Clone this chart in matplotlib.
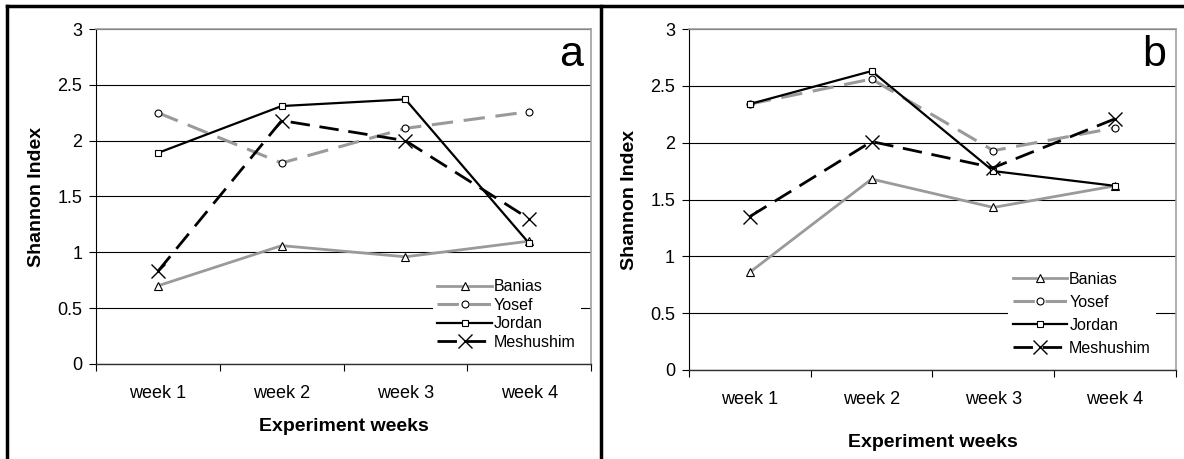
import matplotlib
matplotlib.use('Agg')
import matplotlib.pyplot as plt
from matplotlib.lines import Line2D

plt.rcParams['font.family'] = ['Liberation Sans', 'DejaVu Sans']

weeks = ['week 1', 'week 2', 'week 3', 'week 4']
series_names = ['Banias', 'Yosef', 'Jordan', 'Meshushim']

# panel a
banias_a = [0.70, 1.06, 0.96, 1.10]
yosef_a = [2.25, 1.80, 2.11, 2.26]
jordan_a = [1.89, 2.31, 2.37, 1.08]
meshushim_a = [0.83, 2.18, 2.00, 1.30]

# panel b
banias_b = [0.86, 1.68, 1.43, 1.62]
yosef_b = [2.34, 2.56, 1.93, 2.13]
jordan_b = [2.34, 2.63, 1.75, 1.62]
meshushim_b = [1.35, 2.01, 1.78, 2.21]

styles = {
    'Banias': dict(color='#9a9a9a', lw=2.0, marker='^', ms=6, mfc='white', mec='black', mew=0.8),
    'Yosef': dict(color='#9a9a9a', lw=2.2, dashes=(7, 3.5), marker='o', ms=5, mfc='white', mec='black', mew=0.8),
    'Jordan': dict(color='black', lw=1.6, marker='s', ms=5, mfc='white', mec='black', mew=0.8),
    'Meshushim': dict(color='black', lw=2.0, dashes=(7, 3.5), marker='x', ms=10, mec='black', mew=1.0),
}

fig = plt.figure(figsize=(11.84, 4.59), dpi=100)

panels = [
    dict(rect=[0.0811, 0.2070, 0.4181, 0.7298], data=[banias_a, yosef_a, jordan_a, meshushim_a],
         letter='a', lx=0.984, ly=0.89, leg_anchor=(0.995, 0.005), leg_space=0.21,
         xlabelpad=12, ylabelpad=9),
    dict(rect=[0.5819, 0.1939, 0.4113, 0.7429], data=[banias_b, yosef_b, jordan_b, meshushim_b],
         letter='b', lx=0.979, ly=0.891, leg_anchor=(0.975, 0.005), leg_space=0.5,
         xlabelpad=19, ylabelpad=9),
]

xs = list(range(len(weeks)))
for p in panels:
    ax = fig.add_axes(p['rect'])
    for name, vals in zip(series_names, p['data']):
        ax.plot(xs, vals, label=name, zorder=3, **styles[name])
    ax.set_xlim(-0.5, 3.5)
    ax.set_ylim(0, 3)
    ax.set_yticks([0, 0.5, 1, 1.5, 2, 2.5, 3])
    ax.set_yticklabels(['0', '0.5', '1', '1.5', '2', '2.5', '3'])
    ax.yaxis.grid(True, color='black', lw=0.8)
    ax.set_axisbelow(True)
    ax.set_xticks([-0.5, 0.5, 1.5, 2.5, 3.5])
    ax.set_xticklabels([])
    ax.set_xticks(xs, minor=True)
    ax.set_xticklabels(weeks, minor=True)
    ax.tick_params(axis='x', which='minor', length=0, labelsize=13, pad=15)
    ax.tick_params(axis='x', which='major', length=5, width=0.8, direction='out')
    ax.tick_params(axis='y', length=5, width=0.8, direction='out', labelsize=13, pad=5)
    ax.spines['left'].set_color('black')
    ax.spines['left'].set_linewidth(0.8)
    ax.spines['bottom'].set_color('#303030')
    ax.spines['bottom'].set_linewidth(1.0)
    for s in ['top', 'right']:
        ax.spines[s].set_color('#a0a0a0')
        ax.spines[s].set_linewidth(1.2)
    ax.set_xlabel('Experiment weeks', fontsize=14, fontweight='bold', labelpad=p['xlabelpad'])
    ax.set_ylabel('Shannon Index', fontsize=14, fontweight='bold', labelpad=p['ylabelpad'])
    ax.text(p['lx'], p['ly'], p['letter'], transform=ax.transAxes, ha='right', va='baseline', fontsize=31)
    leg = ax.legend(loc='lower right', bbox_to_anchor=p['leg_anchor'], fontsize=11.5, frameon=True,
                    fancybox=False, edgecolor='none', facecolor='white', framealpha=1,
                    handlelength=3.4, handletextpad=0.15, labelspacing=p['leg_space'], borderpad=0.3)
    leg.set_zorder(5)

# outer frame and divider
fig.add_artist(Line2D([7 / 1184, 7 / 1184], [0, 1 - 6 / 459], transform=fig.transFigure, color='black', lw=2.5))
fig.add_artist(Line2D([7 / 1184, 1], [1 - 6 / 459, 1 - 6 / 459], transform=fig.transFigure, color='black', lw=2.5))
fig.add_artist(Line2D([601 / 1184, 601 / 1184], [0, 1 - 6 / 459], transform=fig.transFigure, color='black', lw=2.5))

fig.savefig('out.png', dpi=100, facecolor='white')
